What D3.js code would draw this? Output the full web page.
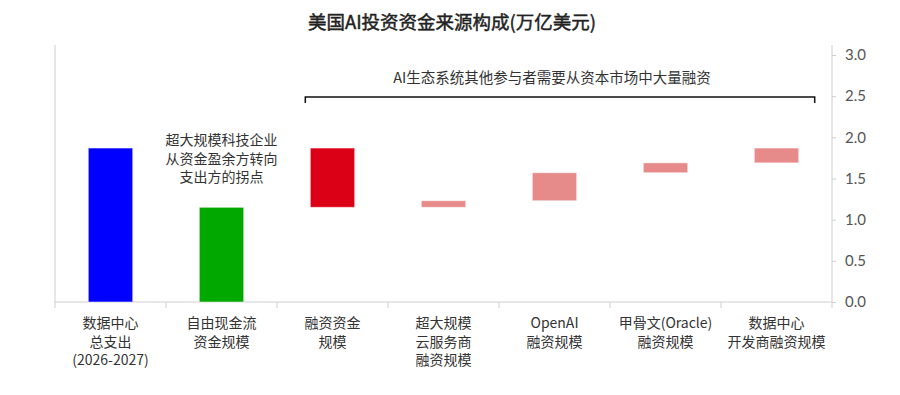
<!DOCTYPE html>
<html>
<head>
<meta charset="utf-8">
<script src="https://cdn.jsdelivr.net/npm/d3@7"></script>
<style>
  body { margin: 0; background: #fff; }
  text { font-family: "Noto Sans CJK SC", "Noto Sans", sans-serif; }
</style>
</head>
<body>
<div id="chart"></div>
<script>
// categories (multi-line labels)
var categories = [
    ["数据中心", "总支出", "(2026-2027)"],
    ["自由现金流", "资金规模"],
    ["融资资金", "规模"],
    ["超大规模", "云服务商", "融资规模"],
    ["OpenAI", "融资规模"],
    ["甲骨文(Oracle)", "融资规模"],
    ["数据中心", "开发商融资规模"]
]
// floating bars: start / end values (万亿美元)
var barStart = [0, 0, 1.15, 1.15, 1.23, 1.57, 1.69]
var barEnd   = [1.87, 1.15, 1.87, 1.23, 1.57, 1.69, 1.87]
var barColors = ["#0000ff", "#00a800", "#dc0016", "#e68a8a", "#e68a8a", "#e68a8a", "#e68a8a"]
var yTicks = [0, 0.5, 1.0, 1.5, 2.0, 2.5, 3.0]

var title = "美国AI投资资金来源构成(万亿美元)"
var noteLeft = ["超大规模科技企业", "从资金盈余方转向", "支出方的拐点"]
var noteBracket = "AI生态系统其他参与者需要从资本市场中大量融资"

var width = 900, height = 395;
var x0 = 55, x1 = 832, yTop = 45, yBase = 302;

var svg = d3.select("#chart").append("svg")
    .attr("width", width)
    .attr("height", height);

var xScale = d3.scaleBand()
    .domain(d3.range(categories.length))
    .range([x0, x1])
    .paddingInner(0.6)
    .paddingOuter(0.3);

var yScale = d3.scaleLinear()
    .domain([0, 3])
    .range([yBase, 55]);

// left frame line
svg.append("line")
    .attr("x1", x0).attr("x2", x0)
    .attr("y1", yTop).attr("y2", yBase)
    .attr("stroke", "#cfcfcf");

// right axis
var yAxis = svg.append("g")
    .attr("transform", `translate(${x1},0)`)
    .call(d3.axisRight(yScale).tickValues(yTicks).tickSize(4).tickPadding(9).tickFormat(d3.format(".1f")));
yAxis.select(".domain").attr("d", `M0,${yTop}V${yBase}`).attr("stroke", "#cfcfcf");
yAxis.selectAll(".tick line").attr("stroke", "#cfcfcf");
yAxis.selectAll(".tick text")
    .attr("fill", "#555")
    .attr("font-size", 15)
    .style("font-family", "Lato, 'Noto Sans', sans-serif");

// baseline with category separator ticks
var step = (x1 - x0) / categories.length;
svg.append("line")
    .attr("x1", x0).attr("x2", x1)
    .attr("y1", yBase).attr("y2", yBase)
    .attr("stroke", "#cfcfcf").attr("stroke-width", 1.2);
svg.selectAll(".sep")
    .data(d3.range(categories.length + 1))
    .enter().append("line")
    .attr("x1", d => x0 + d * step).attr("x2", d => x0 + d * step)
    .attr("y1", yBase).attr("y2", yBase + 6)
    .attr("stroke", "#cfcfcf");

// bars
svg.selectAll(".bar")
    .data(barEnd)
    .enter().append("rect")
    .attr("x", (d, i) => xScale(i))
    .attr("width", xScale.bandwidth())
    .attr("y", (d, i) => yScale(Math.max(d, barStart[i])))
    .attr("height", (d, i) => Math.abs(yScale(barStart[i]) - yScale(d)))
    .attr("fill", (d, i) => barColors[i])
    .attr("stroke", "#ffffff")
    .attr("stroke-opacity", 0.5)
    .attr("stroke-width", 1);

// category labels
categories.forEach((lines, i) => {
    var t = svg.append("text")
        .attr("x", xScale(i) + xScale.bandwidth() / 2)
        .attr("y", 328)
        .attr("text-anchor", "middle")
        .attr("font-size", 14)
        .attr("fill", "#333");
    lines.forEach((l, j) => {
        t.append("tspan")
            .attr("x", xScale(i) + xScale.bandwidth() / 2)
            .attr("dy", j == 0 ? 0 : 18.5)
            .text(l);
    });
});

// title
svg.append("text")
    .attr("x", 452)
    .attr("y", 29)
    .attr("text-anchor", "middle")
    .attr("font-size", 18.5)
    .attr("fill", "#222")
    .attr("stroke", "#222")
    .attr("stroke-width", 0.45)
    .text(title);

// note over green bar (separate lines)
svg.selectAll(".note")
    .data(noteLeft)
    .enter().append("text")
    .attr("x", xScale(1) + xScale.bandwidth() / 2)
    .attr("y", (d, j) => 145 + j * 18.7)
    .attr("text-anchor", "middle")
    .attr("font-size", 14)
    .attr("fill", "#333")
    .text(d => d);

// bracket over financing bars
var bx0 = xScale(2) - 5, bx1 = xScale(6) + xScale.bandwidth() + 16;
var by = 97;
svg.append("path")
    .attr("d", `M${bx0},${by + 6}V${by}H${bx1}V${by + 6}`)
    .attr("fill", "none")
    .attr("stroke", "#111")
    .attr("stroke-width", 1.5);
svg.append("text")
    .attr("x", (bx0 + bx1) / 2 - 8)
    .attr("y", 83)
    .attr("text-anchor", "middle")
    .attr("font-size", 14.5)
    .attr("fill", "#333")
    .text(noteBracket);
</script>
</body>
</html>
